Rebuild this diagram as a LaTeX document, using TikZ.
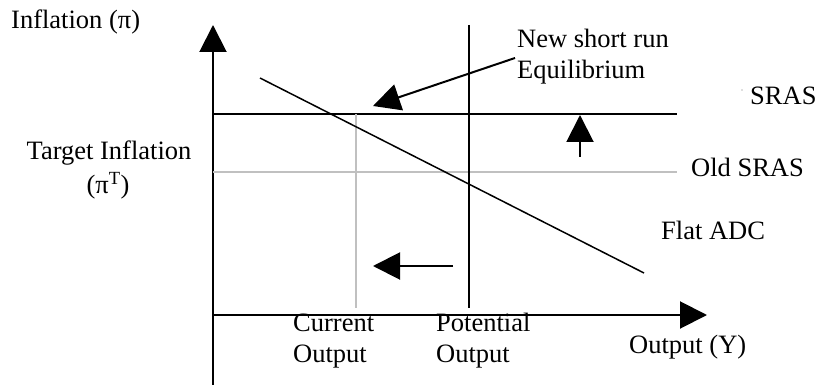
\documentclass[tikz,border=0pt]{standalone}
\usepackage{fontspec}
\setmainfont{Liberation Serif}
\usetikzlibrary{arrows.meta}
\definecolor{lightgr}{RGB}{192,192,192}
\begin{document}
\begin{tikzpicture}[x=1pt,y=-1pt,
  lbl/.style={inner sep=0pt,font=\fontsize{26.5}{31}\selectfont},
  axis/.style={line width=2pt,-{Triangle[length=27pt,width=27pt]}},
  blk/.style={line width=2pt},
  thin/.style={line width=1.5pt},
  grey/.style={line width=1.5pt,draw=lightgr},
  bigarrow/.style={line width=2pt,-{Triangle[length=27pt,width=27pt]}}]
\useasboundingbox (0,0) rectangle (817,385);
% axes
\coordinate (o) at (213,315);
\coordinate (ybot) at (213,385);
\coordinate (ytop) at (213,25);
\coordinate (xend) at (707,315);
\draw[axis] (ybot) -- (ytop);
\draw[axis] (o) -- (xend);
% SRAS lines
\coordinate (s1) at (213,114); \coordinate (s2) at (677,114);
\coordinate (o1) at (213,172); \coordinate (o2) at (677,172);
\draw[blk] (s1) -- (s2);
\draw[grey] (o1) -- (o2);
% verticals
\coordinate (p1) at (469,25); \coordinate (p2) at (469,308);
\coordinate (c1) at (356,114); \coordinate (c2) at (356,308);
\draw[thin] (p1) -- (p2);
\draw[grey] (c1) -- (c2);
% ADC
\coordinate (a1) at (260,78); \coordinate (a2) at (644,273);
\draw[thin] (a1) -- (a2);
% shift arrows
\coordinate (u1) at (580,157); \coordinate (u2) at (580,115);
\draw[bigarrow] (u1) -- (u2);
\coordinate (l1) at (453,266); \coordinate (l2) at (373,266);
\draw[bigarrow] (l1) -- (l2);
\coordinate (e1) at (515,58); \coordinate (e2) at (373,106);
\draw[bigarrow] (e1) -- (e2);
% labels
\node[lbl,anchor=west] (infl) at (11,22) {Inflation (π)};
\node[lbl,anchor=west,align=left] (nsr) at (517,57) {New short run\\Equilibrium};
\fill[lightgr!60!black] (742,90) circle (0.6pt);
\node[lbl,anchor=west] (sras) at (750,96) {SRAS};
\node[lbl,anchor=west] (osras) at (691,167) {Old SRAS};
\node[lbl] (tgt) at (109,153) {Target Inflation};
\node[lbl] (tgtpi) at (108,186) {(π\textsuperscript{T})};
\node[lbl,anchor=west] (adc) at (661,230) {Flat ADC};
\node[lbl,anchor=west,align=left] (cur) at (293,341) {Current\\Output};
\node[lbl,anchor=west,align=left] (pot) at (436,341) {Potential\\Output};
\node[lbl,anchor=west] (outy) at (629,347) {Output (Y)};
\end{tikzpicture}
\end{document}
